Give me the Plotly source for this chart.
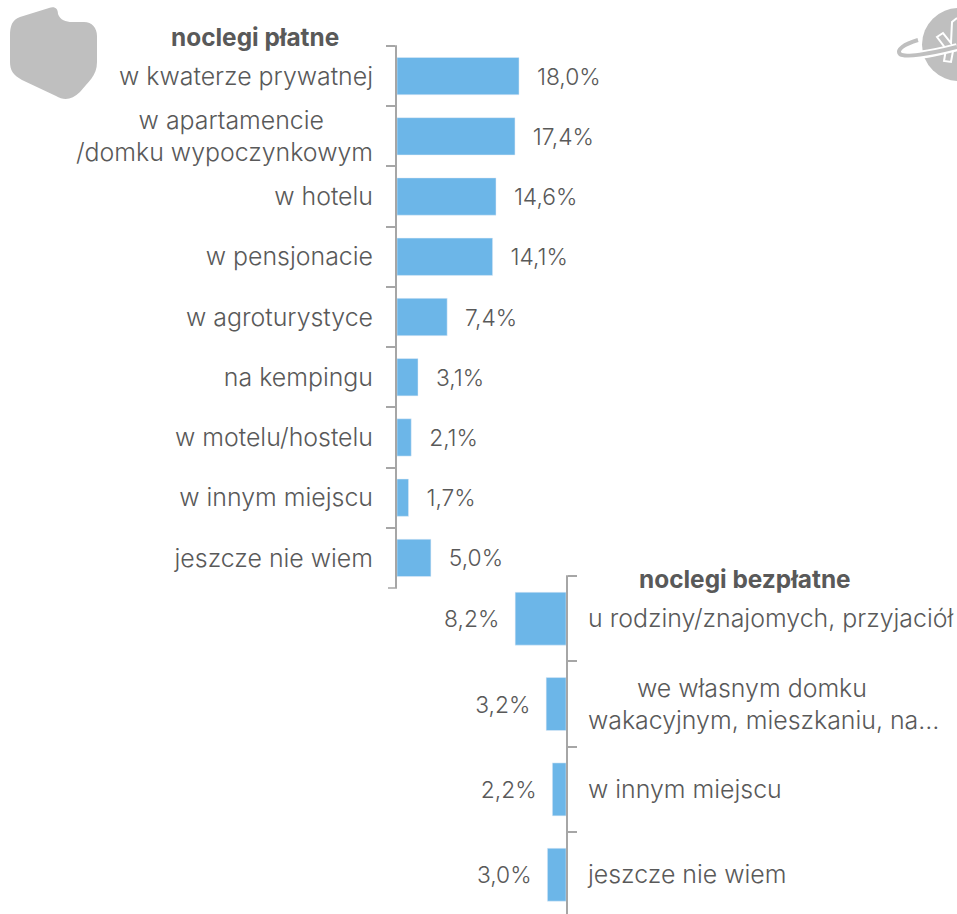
import plotly.graph_objects as go

W, H = 957, 914
FONT = "Inter"
TXT = "#595959"
BAR = "#6CB6E8"
AXIS = "#A6A6A6"
ICON = "#BFBFBF"

paid_labels = ["w kwaterze prywatnej",
               "w apartamencie" + "\u00a0" * 7 + "<br>/domku wypoczynkowym",
               "w hotelu", "w pensjonacie", "w agroturystyce", "na kempingu",
               "w motelu/hostelu", "w innym miejscu", "jeszcze nie wiem"]
paid_values = [18.0, 17.4, 14.6, 14.1, 7.4, 3.1, 2.1, 1.7, 5.0]

free_labels = ["u rodziny/znajomych, przyjaciół",
               "\u00a0" * 7 + "we własnym domku<br>wakacyjnym, mieszkaniu, na…",
               "w innym miejscu", "jeszcze nie wiem"]
free_values = [8.2, 3.2, 2.2, 3.0]


def px(x):
    return x / W


def py(y):
    return 1 - y / H


def path(*cmds):
    out = []
    for c in cmds:
        if isinstance(c, str):
            out.append(c)
        else:
            out.append(f"{px(c[0]):.5f},{py(c[1]):.5f}")
    return " ".join(out)


def end_tick(x0, x1, y):
    return dict(type="line", xref="paper", yref="paper", x0=px(x0), x1=px(x1), y0=py(y), y1=py(y),
                line=dict(color=AXIS, width=1.5))


fig = go.Figure()
fig.add_bar(y=paid_labels, x=paid_values, orientation="h", xaxis="x", yaxis="y",
            marker_color=BAR, width=0.62, cliponaxis=False,
            textfont=dict(family=FONT, size=22.8, color=TXT, weight=300),
            texttemplate="\u00a0\u00a0\u200a%{x:.1f}%", textposition="outside")
fig.add_bar(y=free_labels, x=free_values, orientation="h", xaxis="x2", yaxis="y2",
            marker_color=BAR, width=0.62, cliponaxis=False,
            textfont=dict(family=FONT, size=22.8, color=TXT, weight=300),
            texttemplate="%{x:.1f}%\u00a0\u00a0", textposition="outside")

axis_y = dict(type="category", showgrid=False, zeroline=False, showline=True,
              linecolor=AXIS, linewidth=2, ticks="outside", ticklen=9, tickcolor=AXIS,
              tickwidth=1.5, tickson="boundaries",
              tickfont=dict(family=FONT, size=24.9, color=TXT, weight=300))
axis_x = dict(visible=False, showgrid=False, zeroline=False)

poland = path("M", (10, 36), "C", (10, 26), (12, 20), (20, 17), "L", (49, 8),
              "C", (55, 6), (58, 9), (58, 14), "C", (60, 20), (66, 22), (72, 22),
              "L", (84, 22), "C", (92, 22), (97, 28), (97, 36), "L", (97, 62),
              "C", (97, 76), (88, 82), (80, 92), "C", (72, 100), (64, 101), (56, 96),
              "L", (22, 80), "C", (13, 75), (10, 70), (10, 62), "Z")
plane = path("M", (957, 18), "L", (952, 22), "L", (951, 43), "L", (943, 33), "L", (937, 37),
             "L", (946, 49), "L", (944, 61), "L", (951, 62), "L", (953, 51), "L", (957, 50))
ring = path("M", (918, 40), "C", (904, 44), (896, 50), (900, 54),
            "C", (904, 58), (930, 54), (957, 47))

fig.update_layout(
    width=W, height=H, margin=dict(l=0, r=0, t=0, b=0), showlegend=False, barmode="overlay",
    paper_bgcolor="white", plot_bgcolor="rgba(0,0,0,0)", separators=", ",
    font=dict(family=FONT, size=22, color=TXT),
    xaxis=dict(axis_x, domain=[px(397), 1], range=[0, (W - 397) / 6.78], anchor="y"),
    yaxis=dict(axis_y, domain=[py(588), py(46)], range=[8.5, -0.5], anchor="x", side="left",
               ticklabelstandoff=17),
    xaxis2=dict(axis_x, domain=[0, px(566)], range=[566 / 6.2, 0], anchor="y2"),
    yaxis2=dict(axis_y, domain=[0, py(576)], range=[3.46, -0.5], anchor="x2", side="right",
                ticklabelstandoff=15),
    annotations=[
        dict(text="<b>noclegi płatne</b>", xref="paper", yref="paper", x=px(254.5), y=py(37),
             xanchor="center", yanchor="middle", showarrow=False,
             font=dict(family=FONT, size=24.4, color=TXT)),
        dict(text="<b>noclegi bezpłatne</b>", xref="paper", yref="paper", x=px(745), y=py(579),
             xanchor="center", yanchor="middle", showarrow=False,
             font=dict(family=FONT, size=24.4, color=TXT)),
    ],
    shapes=[
        dict(type="path", xref="paper", yref="paper", path=poland, fillcolor=ICON, line_width=0),
        dict(type="circle", xref="paper", yref="paper", x0=px(922), x1=px(996), y0=py(81), y1=py(8),
             fillcolor=ICON, line_width=0),
        dict(type="path", xref="paper", yref="paper", path=plane,
             line=dict(color="white", width=2)),
        dict(type="path", xref="paper", yref="paper", path=ring, line=dict(color="white", width=8)),
        dict(type="path", xref="paper", yref="paper", path=ring, line=dict(color=ICON, width=4)),
        end_tick(388, 397, 46), end_tick(388, 397, 588), end_tick(566, 575, 576),
    ],
)
fig.write_html("out.html", config=dict(displayModeBar=False),
               post_script="document.body.style.margin='0';document.documentElement.style.overflow='hidden';")
